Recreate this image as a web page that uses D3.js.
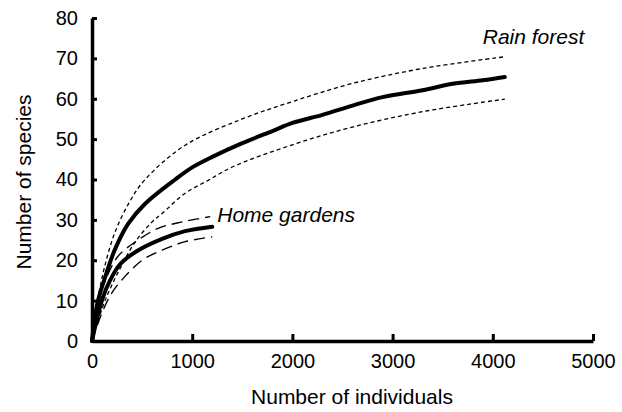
<!DOCTYPE html>
<html>
<head>
<meta charset="utf-8">
<script src="https://cdn.jsdelivr.net/npm/d3@7"></script>
<style>
  body { margin: 0; background: #fff; }
  svg { display: block; font-family: "Liberation Sans", Arial, sans-serif; }
</style>
</head>
<body>
<div id="chart"></div>
<script>
// rarefaction curves, values
const rainX     = [0, 25, 60, 140, 226, 360, 530, 830, 1000, 1200, 1500, 1800, 2000, 2300, 2600, 2900, 3300, 3600, 3900, 4120];
const rainMean  = [0, 5, 10, 16.5, 22.5, 29, 34, 40, 43, 45.6, 49, 52, 54, 56, 58.3, 60.4, 62.1, 63.7, 64.6, 65.4];
const rainUpX   = [0, 20, 70, 126, 226, 376, 530, 930, 1500, 2000, 2600, 3300, 4120];
const rainUpper = [0, 6, 12, 18.4, 26.7, 34.5, 40, 48.5, 55, 59.3, 63.8, 67.5, 70.4];
const rainLoX   = [0, 60, 130, 260, 430, 600, 700, 930, 1160, 1400, 2000, 2600, 3300, 4120];
const rainLower = [0, 5, 10, 17, 24.5, 29.5, 31.6, 36.6, 39.8, 43.1, 48.6, 53, 56.8, 59.9];

const homeX     = [0, 45, 105, 180, 280, 450, 700, 930, 1200];
const homeMean  = [0, 5, 10.5, 15, 19, 22.3, 25.3, 27.2, 28.3];
const homeUpX   = [0, 60, 150, 260, 430, 660, 900, 1180];
const homeUpper = [0, 10, 16, 21, 24.5, 27.9, 29.5, 30.8];
const homeLoX   = [0, 100, 200, 330, 500, 700, 930, 1200];
const homeLower = [0, 7, 12, 16, 20, 22.5, 24.6, 25.8];

const xTicks = [0, 1000, 2000, 3000, 4000, 5000];
const yTicks = [0, 10, 20, 30, 40, 50, 60, 70, 80];

const width = 622, height = 412;
const margin = { top: 18, right: 29, bottom: 71, left: 92 };

const svg = d3.select("#chart").append("svg")
    .attr("width", width)
    .attr("height", height);

const x = d3.scaleLinear().domain([0, 5000]).range([margin.left, width - margin.right]);
const y = d3.scaleLinear().domain([0, 80]).range([height - margin.bottom, margin.top]);

const toPts = (xs, ys) => xs.map((v, i) => [v, ys[i]]);
const line = d3.line().x(d => x(d[0])).y(d => y(d[1])).curve(d3.curveCatmullRom.alpha(0.5));

const series = [
    { pts: toPts(rainUpX, rainUpper), w: 1.3, dash: "4,3" },
    { pts: toPts(rainLoX, rainLower), w: 1.3, dash: "4,3" },
    { pts: toPts(homeUpX, homeUpper), w: 1.4, dash: "11,6" },
    { pts: toPts(homeLoX, homeLower), w: 1.4, dash: "11,6" },
    { pts: toPts(rainX, rainMean), w: 4, dash: null },
    { pts: toPts(homeX, homeMean), w: 4, dash: null }
];

svg.selectAll("path.curve")
    .data(series)
    .enter().append("path")
    .attr("class", "curve")
    .attr("d", d => line(d.pts))
    .style("fill", "none")
    .style("stroke", "#000")
    .style("stroke-width", d => d.w)
    .style("stroke-dasharray", d => d.dash)
    .style("stroke-linecap", d => d.dash ? "butt" : "round");

// axes
const xAxis = svg.append("g")
    .attr("transform", "translate(0," + y(0) + ")")
    .call(d3.axisBottom(x).tickValues(xTicks).tickFormat(d3.format("d"))
        .tickSizeInner(-7).tickSizeOuter(0).tickPadding(13));

const yAxis = svg.append("g")
    .attr("transform", "translate(" + x(0) + ",0)")
    .call(d3.axisLeft(y).tickValues(yTicks)
        .tickSizeInner(-5).tickSizeOuter(0).tickPadding(14));

[xAxis, yAxis].forEach(g => {
    g.select(".domain").style("stroke-width", 3.5).style("stroke", "#000");
    g.selectAll(".tick line").style("stroke-width", 3).style("stroke", "#000");
    g.selectAll(".tick text").style("font-size", "20px").style("fill", "#000")
        .style("font-family", "'Liberation Sans', Arial, sans-serif");
});
xAxis.selectAll(".tick").filter(d => d === 0).select("line").remove();
yAxis.selectAll(".tick").filter(d => d === 0).select("line").remove();

// axis titles
svg.append("text")
    .attr("x", 352).attr("y", 404)
    .attr("text-anchor", "middle")
    .style("font-size", "21px")
    .text("Number of individuals");

svg.append("text")
    .attr("transform", "translate(31," + 182 + ") rotate(-90)")
    .attr("text-anchor", "middle")
    .style("font-size", "21px")
    .text("Number of species");

// curve labels
svg.append("text")
    .attr("x", x(3900)).attr("y", y(73.5))
    .style("font-size", "21px").style("font-style", "italic")
    .text("Rain forest");

svg.append("text")
    .attr("x", x(1250)).attr("y", y(29.5))
    .style("font-size", "21px").style("font-style", "italic")
    .text("Home gardens");
</script>
</body>
</html>
